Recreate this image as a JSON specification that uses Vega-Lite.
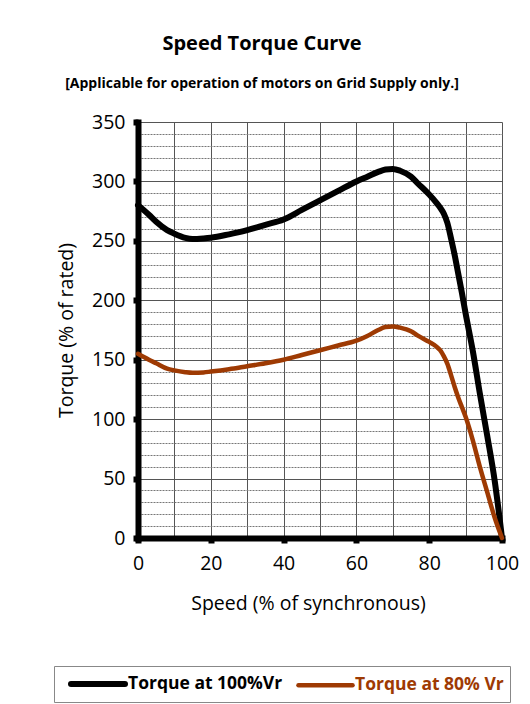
{
  "$schema": "https://vega.github.io/schema/vega-lite/v6.json",
  "autosize": {"type": "none"},
  "width": 364,
  "height": 416,
  "padding": {"left": 138, "top": 122, "right": 28, "bottom": 166},
  "background": "white",
  "config": {
    "font": "Open Sans",
    "view": {"stroke": null}
  },
  "title": {
    "text": "Speed Torque Curve",
    "subtitle": "[Applicable for operation of motors on Grid Supply only.]",
    "anchor": "middle",
    "dx": -58,
    "fontSize": 20,
    "fontWeight": "bold",
    "color": "#000",
    "subtitleFontSize": 14,
    "subtitleFontWeight": "bold",
    "subtitleColor": "#000",
    "subtitlePadding": 23,
    "offset": 21
  },
  "data": {
    "values": [
      {"speed": 0, "torque": 280, "series": "Torque at 100%Vr"},
      {"speed": 3, "torque": 272, "series": "Torque at 100%Vr"},
      {"speed": 5, "torque": 266, "series": "Torque at 100%Vr"},
      {"speed": 8, "torque": 259, "series": "Torque at 100%Vr"},
      {"speed": 10, "torque": 256, "series": "Torque at 100%Vr"},
      {"speed": 13, "torque": 252.5, "series": "Torque at 100%Vr"},
      {"speed": 15, "torque": 251.5, "series": "Torque at 100%Vr"},
      {"speed": 18, "torque": 252, "series": "Torque at 100%Vr"},
      {"speed": 20, "torque": 252.6, "series": "Torque at 100%Vr"},
      {"speed": 25, "torque": 255.5, "series": "Torque at 100%Vr"},
      {"speed": 30, "torque": 259, "series": "Torque at 100%Vr"},
      {"speed": 35, "torque": 263.5, "series": "Torque at 100%Vr"},
      {"speed": 40, "torque": 268, "series": "Torque at 100%Vr"},
      {"speed": 45, "torque": 276, "series": "Torque at 100%Vr"},
      {"speed": 50, "torque": 284, "series": "Torque at 100%Vr"},
      {"speed": 55, "torque": 292, "series": "Torque at 100%Vr"},
      {"speed": 60, "torque": 300, "series": "Torque at 100%Vr"},
      {"speed": 63, "torque": 304, "series": "Torque at 100%Vr"},
      {"speed": 66, "torque": 308, "series": "Torque at 100%Vr"},
      {"speed": 68, "torque": 310, "series": "Torque at 100%Vr"},
      {"speed": 70, "torque": 310.5, "series": "Torque at 100%Vr"},
      {"speed": 72, "torque": 309, "series": "Torque at 100%Vr"},
      {"speed": 75, "torque": 304, "series": "Torque at 100%Vr"},
      {"speed": 77, "torque": 298, "series": "Torque at 100%Vr"},
      {"speed": 80, "torque": 289, "series": "Torque at 100%Vr"},
      {"speed": 82, "torque": 282, "series": "Torque at 100%Vr"},
      {"speed": 83, "torque": 278, "series": "Torque at 100%Vr"},
      {"speed": 84, "torque": 273, "series": "Torque at 100%Vr"},
      {"speed": 85, "torque": 265, "series": "Torque at 100%Vr"},
      {"speed": 86, "torque": 252, "series": "Torque at 100%Vr"},
      {"speed": 87, "torque": 238, "series": "Torque at 100%Vr"},
      {"speed": 88, "torque": 222, "series": "Torque at 100%Vr"},
      {"speed": 89, "torque": 206, "series": "Torque at 100%Vr"},
      {"speed": 90, "torque": 189, "series": "Torque at 100%Vr"},
      {"speed": 92, "torque": 157, "series": "Torque at 100%Vr"},
      {"speed": 94, "torque": 120, "series": "Torque at 100%Vr"},
      {"speed": 96, "torque": 85, "series": "Torque at 100%Vr"},
      {"speed": 98, "torque": 48, "series": "Torque at 100%Vr"},
      {"speed": 100, "torque": 0, "series": "Torque at 100%Vr"},
      {"speed": 0, "torque": 155, "series": "Torque at 80% Vr"},
      {"speed": 3, "torque": 150, "series": "Torque at 80% Vr"},
      {"speed": 5, "torque": 147, "series": "Torque at 80% Vr"},
      {"speed": 8, "torque": 142.5, "series": "Torque at 80% Vr"},
      {"speed": 10, "torque": 141, "series": "Torque at 80% Vr"},
      {"speed": 13, "torque": 139.5, "series": "Torque at 80% Vr"},
      {"speed": 15, "torque": 139, "series": "Torque at 80% Vr"},
      {"speed": 18, "torque": 139.3, "series": "Torque at 80% Vr"},
      {"speed": 20, "torque": 140, "series": "Torque at 80% Vr"},
      {"speed": 25, "torque": 142, "series": "Torque at 80% Vr"},
      {"speed": 30, "torque": 144.5, "series": "Torque at 80% Vr"},
      {"speed": 35, "torque": 147, "series": "Torque at 80% Vr"},
      {"speed": 40, "torque": 150, "series": "Torque at 80% Vr"},
      {"speed": 45, "torque": 154, "series": "Torque at 80% Vr"},
      {"speed": 50, "torque": 158, "series": "Torque at 80% Vr"},
      {"speed": 55, "torque": 162, "series": "Torque at 80% Vr"},
      {"speed": 60, "torque": 166, "series": "Torque at 80% Vr"},
      {"speed": 63, "torque": 170, "series": "Torque at 80% Vr"},
      {"speed": 66, "torque": 175, "series": "Torque at 80% Vr"},
      {"speed": 68, "torque": 177.5, "series": "Torque at 80% Vr"},
      {"speed": 70, "torque": 178, "series": "Torque at 80% Vr"},
      {"speed": 72, "torque": 177, "series": "Torque at 80% Vr"},
      {"speed": 75, "torque": 174, "series": "Torque at 80% Vr"},
      {"speed": 77, "torque": 170, "series": "Torque at 80% Vr"},
      {"speed": 80, "torque": 165, "series": "Torque at 80% Vr"},
      {"speed": 82, "torque": 161, "series": "Torque at 80% Vr"},
      {"speed": 83, "torque": 158, "series": "Torque at 80% Vr"},
      {"speed": 84, "torque": 153, "series": "Torque at 80% Vr"},
      {"speed": 85, "torque": 146.5, "series": "Torque at 80% Vr"},
      {"speed": 86, "torque": 137, "series": "Torque at 80% Vr"},
      {"speed": 87, "torque": 127, "series": "Torque at 80% Vr"},
      {"speed": 88, "torque": 118, "series": "Torque at 80% Vr"},
      {"speed": 89, "torque": 110, "series": "Torque at 80% Vr"},
      {"speed": 90, "torque": 102, "series": "Torque at 80% Vr"},
      {"speed": 92, "torque": 82, "series": "Torque at 80% Vr"},
      {"speed": 94, "torque": 59, "series": "Torque at 80% Vr"},
      {"speed": 96, "torque": 38, "series": "Torque at 80% Vr"},
      {"speed": 98, "torque": 17, "series": "Torque at 80% Vr"},
      {"speed": 100, "torque": 0, "series": "Torque at 80% Vr"}
    ]
  },
  "mark": {"type": "line", "interpolate": "monotone", "clip": false, "strokeCap": "round", "strokeJoin": "round"},
  "encoding": {
    "x": {
      "field": "speed",
      "type": "quantitative",
      "scale": {"domain": [0, 100], "nice": false, "zero": false},
      "axis": {
        "values": [0, 10, 20, 30, 40, 50, 60, 70, 80, 90, 100],
        "title": "Speed (% of synchronous)",
        "titleFontSize": 19.5,
        "titleFontWeight": "normal",
        "titleColor": "#000",
        "titlePadding": 22,
        "titleX": 170,
        "labelFontSize": 19.5,
        "labelColor": "#000",
        "labelPadding": 11,
        "labelFlush": false,
        "labelExpr": "datum.value % 20 === 0 ? datum.label : ''",
        "domainColor": "#000",
        "domainWidth": 6,
        "domainCap": "square",
        "tickColor": "#000",
        "tickWidth": 6,
        "tickSize": 5,
        "tickOpacity": {"condition": {"test": "datum.value % 20 === 0", "value": 1}, "value": 0},
        "grid": true,
        "gridColor": "#555",
        "gridWidth": 1
      }
    },
    "y": {
      "field": "torque",
      "type": "quantitative",
      "scale": {"domain": [0, 350], "nice": false},
      "axis": {
        "values": [0, 10, 20, 30, 40, 50, 60, 70, 80, 90, 100, 110, 120, 130, 140, 150, 160, 170, 180, 190, 200, 210, 220, 230, 240, 250, 260, 270, 280, 290, 300, 310, 320, 330, 340, 350],
        "title": "Torque (% of rated)",
        "titleFontSize": 19.5,
        "titleFontWeight": "normal",
        "titleColor": "#000",
        "titlePadding": 15,
        "labelFontSize": 19.5,
        "labelColor": "#000",
        "labelPadding": 8,
        "labelFlush": false,
        "labelExpr": "datum.value % 50 === 0 ? datum.label : ''",
        "domainColor": "#000",
        "domainWidth": 6,
        "domainCap": "square",
        "tickColor": "#000",
        "tickWidth": 6,
        "tickSize": 5,
        "tickOpacity": {"condition": {"test": "datum.value % 50 === 0", "value": 1}, "value": 0},
        "grid": true,
        "gridColor": {"condition": {"test": "datum.value % 50 === 0", "value": "#555"}, "value": "#777"},
        "gridDash": {"condition": {"test": "datum.value % 50 === 0", "value": []}, "value": [2, 1]},
        "gridWidth": 1
      }
    },
    "color": {
      "field": "series",
      "type": "nominal",
      "scale": {"domain": ["Torque at 100%Vr", "Torque at 80% Vr"], "range": ["#000000", "#9E3A03"]},
      "legend": {
        "title": null,
        "orient": "none",
        "legendX": -84,
        "legendY": 544,
        "direction": "horizontal",
        "symbolType": "M-3,0H3",
        "symbolSize": 324,
        "symbolOffset": 26,
        "symbolStrokeWidth": 5,
        "labelFontSize": 17.5,
        "labelFontWeight": "bold",
        "labelOffset": 18,
        "labelLimit": 300,
        "columnPadding": 5,
        "padding": 6,
        "strokeColor": "#888",
        "fillColor": "white",
        "encode": {
          "symbols": {
            "update": {"strokeCap": {"value": "round"}}
          },
          "labels": {
            "update": {
              "fill": {"signal": "datum.value === 'Torque at 80% Vr' ? '#9E3A03' : '#000000'"}
            }
          }
        }
      }
    },
    "strokeWidth": {
      "field": "series",
      "type": "nominal",
      "scale": {"domain": ["Torque at 100%Vr", "Torque at 80% Vr"], "range": [6, 4.5]},
      "legend": null
    }
  }
}
